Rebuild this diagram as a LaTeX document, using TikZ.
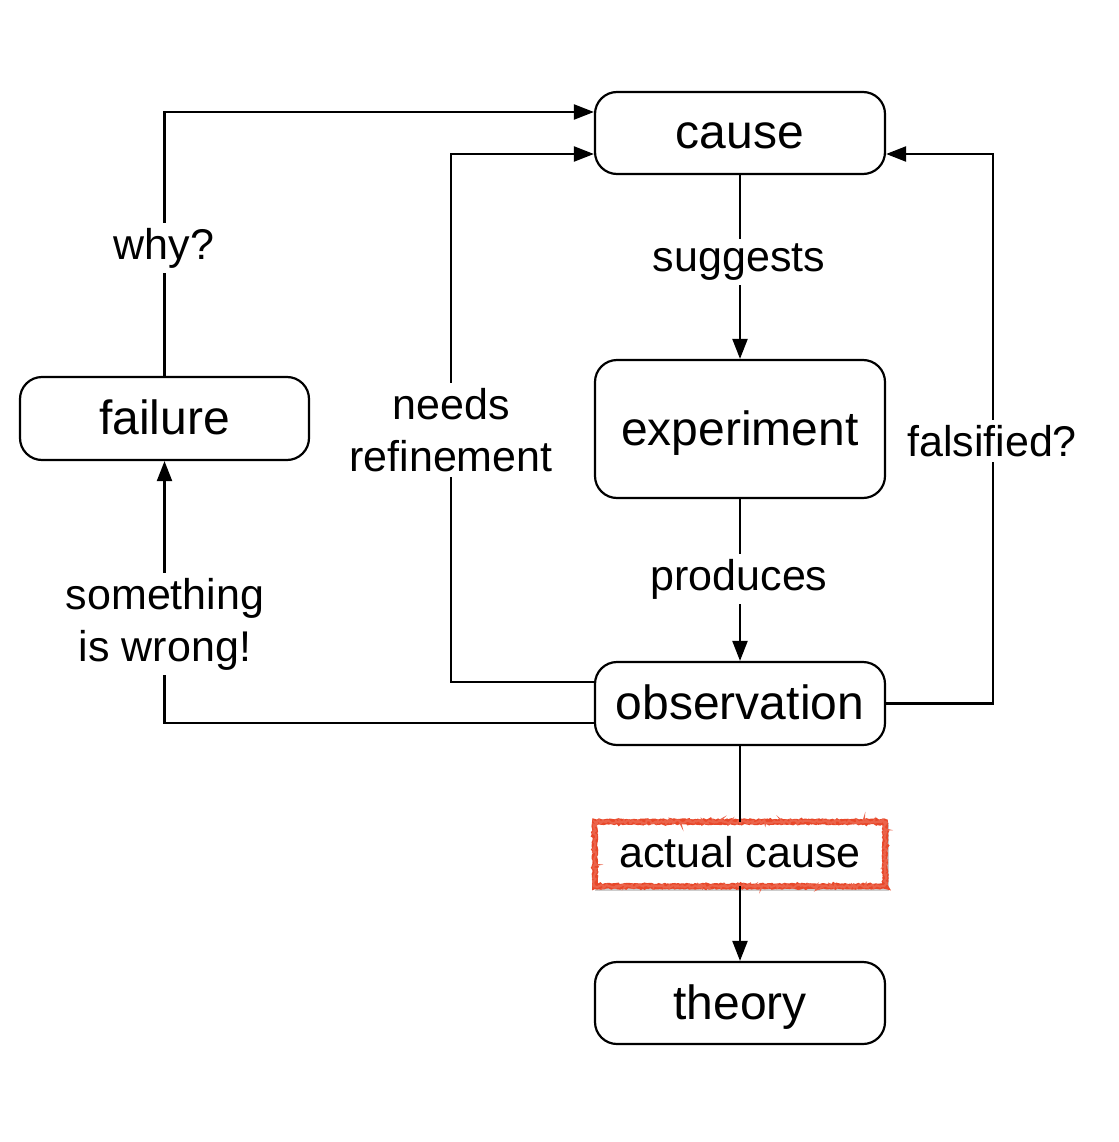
\documentclass[tikz,border=0pt]{standalone}
\usepackage{fontspec}
\setmainfont{Liberation Sans}
\usetikzlibrary{arrows.meta,decorations.pathmorphing}
\definecolor{sketchred}{RGB}{232,72,42}
\begin{document}
\begin{tikzpicture}[x=1pt,y=-1pt,
  box/.style={draw, line width=2.2pt, rounded corners=22pt, minimum width=290pt, minimum height=82pt, inner sep=0pt, text height=38pt, text depth=6pt, font=\fontsize{48}{56}\selectfont},
  lbl/.style={fill=white, inner sep=5pt, align=center, font=\fontsize{43}{52}\selectfont},
  conn/.style={line width=2.2pt},
  arr/.style={conn, -{Triangle[length=20pt,width=15pt]}},
  redsketch/.style={draw=sketchred, line width=5.5pt, decorate, decoration={random steps, segment length=1.5pt, amplitude=0.7pt}}
]
\useasboundingbox[fill=white] (0,0) rectangle (1118,1142);

\node[box] (cause) at (740,133) {cause};
\node[box, minimum height=138pt] (exp) at (740,429) {experiment};
\node[box, minimum height=83pt] (obs) at (740,703.5) {observation};
\node[box, minimum width=289pt, minimum height=83pt] (failure) at (164.5,418.5) {failure};
\node[box] (theory) at (740,1003) {theory};
\node[minimum width=290pt, minimum height=64pt, inner sep=0pt, text height=33pt, text depth=7pt, font=\fontsize{43}{52}\selectfont] (ac) at (740,854) {actual cause};
\draw[draw=black!20, line width=3pt] ([shift={(2pt,-3pt)}]ac.south west) rectangle ([shift={(2pt,-3pt)}]ac.north east);
\fill[white] (ac.south west) rectangle (ac.north east);
\node[text height=33pt, text depth=7pt, inner sep=0pt, font=\fontsize{43}{52}\selectfont] at (ac.center) {actual cause};
\draw[redsketch] (ac.south west) rectangle (ac.north east);
\draw[draw=sketchred!85, line width=2pt, decorate, decoration={random steps, segment length=1.5pt, amplitude=1.6pt}] (ac.south west) rectangle (ac.north east);

\coordinate (nrtop) at (451,154);
\coordinate (fstop) at (993,154);

\draw[arr] (failure.north) |- ([yshift=21pt]cause.west);
\draw[arr] ([yshift=21.5pt]obs.west) -| (nrtop) -- ([yshift=-21pt]cause.west);
\draw[arr] (obs.east) -| (fstop) -- ([yshift=-21pt]cause.east);
\draw[arr] ([yshift=-19.5pt]obs.west) -| (failure.south);
\draw[arr] (cause.south) -- (exp.north);
\draw[arr] (exp.south) -- (obs.north);
\draw[conn] (obs.south) -- (ac.north);
\draw[arr] (ac.south) -- (theory.north);

\node[lbl] (why) at (164,248) {why?};
\node[lbl] (sug) at (739,262) {suggests};
\node[lbl] (prod) at (739,579) {produces};
\node[lbl] (nr) at (451,430) {needs\\refinement};
\node[lbl, inner xsep=2pt] (fals) at (992,441) {falsified?};
\node[lbl] (sw) at (165,624) {something\\is wrong!};
\end{tikzpicture}
\end{document}
